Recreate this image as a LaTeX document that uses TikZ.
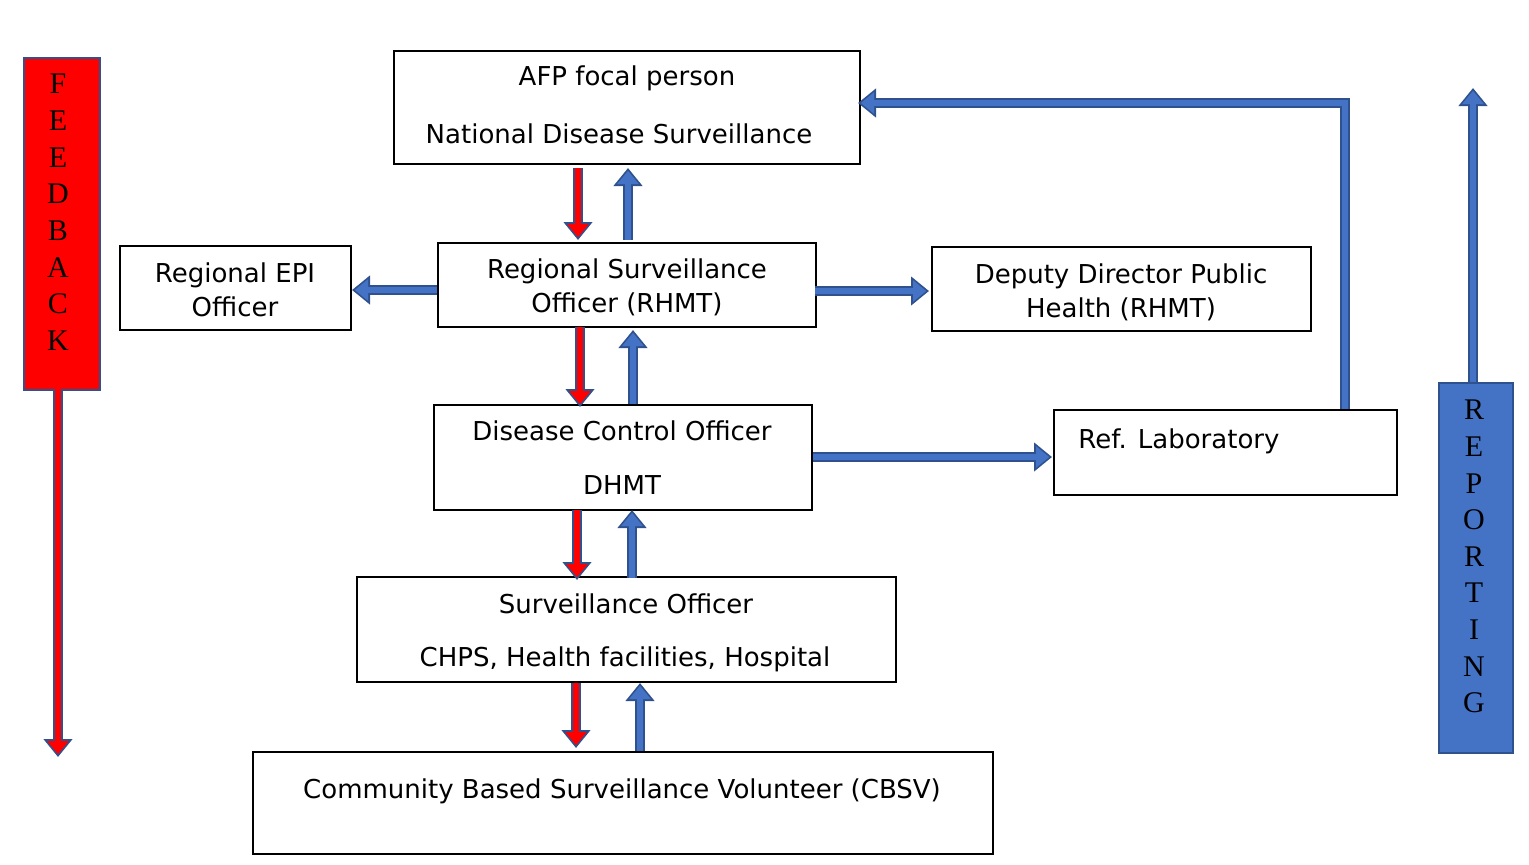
\documentclass[tikz,border=0pt]{standalone}
\usepackage{fontspec}
\setmainfont{DejaVu Sans}
\newfontfamily\serifl{Liberation Serif}
\usetikzlibrary{arrows.meta}
\definecolor{bl}{HTML}{4472C4}
\definecolor{dk}{HTML}{2F528F}
\definecolor{rd}{HTML}{FF0000}
\tikzset{
  box/.style={draw, line width=1pt, inner sep=0pt, anchor=north west},
  txt/.style={font=\fontsize{13}{15}\selectfont, align=center, inner sep=0pt},
  fo/.style={draw=dk, line width=5.2pt, -{Triangle[length=9pt,width=14pt]}},
  fi/.style={line width=3.4pt, shorten >=1.4pt, -{Triangle[length=6.6pt,width=10.4pt]}},
  lt/.style={font=\serifl\fontsize{15}{16}\selectfont, inner sep=0pt}
}
\newcommand\farrow[2]{\draw[fo] #2; \draw[fi,draw=#1] #2;}
\begin{document}
\begin{tikzpicture}[x=0.5pt,y=-0.5pt]
\useasboundingbox (0,0) rectangle (1529,864);
% boxes
\node[box, minimum width=233pt, minimum height=56.5pt] (afp) at (393,50) {};
\node[box, minimum width=115.5pt, minimum height=42pt] (epi) at (119,245) {};
\node[box, minimum width=189pt, minimum height=42pt] (rso) at (437,242) {};
\node[box, minimum width=189.5pt, minimum height=42pt] (ddp) at (931,246) {};
\node[box, minimum width=189pt, minimum height=52.5pt] (dco) at (433,404) {};
\node[box, minimum width=171.5pt, minimum height=42.5pt] (lab) at (1053,409) {};
\node[box, minimum width=269.5pt, minimum height=52.5pt] (so) at (356,576) {};
\node[box, minimum width=370pt, minimum height=51pt] (cb) at (252,751) {};
\node[draw=dk, fill=rd, line width=1pt, inner sep=0pt, anchor=north west, minimum width=38pt, minimum height=166pt] (fb) at (23,57) {};
\node[draw=dk, fill=bl, line width=1pt, inner sep=0pt, anchor=north west, minimum width=37pt, minimum height=185pt] (rp) at (1438,382) {};
% texts
\node[txt] (t1) at (627,78) {AFP focal person};
\node[txt] (t2) at (619,134) {National Disease Surveillance};
\node[txt] (t3) at (235,290) {Regional EPI\\[2pt]Officer};
\node[txt] (t4) at (627,287) {Regional Surveillance\\[2pt]Officer (RHMT)};
\node[txt] (t5) at (1121,292) {Deputy Director Public\\[2pt]Health (RHMT)};
\node[txt] (t6) at (622,431) {Disease Control Officer};
\node[txt] (t7) at (622,485) {DHMT};
\node[txt, anchor=west] (t8) at (1078,441) {Ref. Laboratory};
\node[txt] (t9) at (626,604) {Surveillance Officer};
\node[txt] (t10) at (625,659) {CHPS, Health facilities, Hospital};
\node[txt] (t11) at (622,791) {Community Based Surveillance Volunteer (CBSV)};
\foreach \l [count=\i] in {F,E,E,D,B,A,C,K}
  \node[lt] (f\i) at (58,{84+36.7*(\i-1)}) {\l};
\foreach \l [count=\i] in {R,E,P,O,R,T,I,N,G}
  \node[lt] (r\i) at (1474,{410+36.6*(\i-1)}) {\l};
% vertical arrows
\farrow{rd}{(578,168) -- (578,240)}
\farrow{bl}{(628,240) -- (628,168)}
\farrow{rd}{(580,327) -- (580,407)}
\farrow{bl}{(633,404) -- (633,330)}
\farrow{rd}{(577,510) -- (577,580)}
\farrow{bl}{(632,578) -- (632,510)}
\farrow{rd}{(576,683) -- (576,748)}
\farrow{bl}{(640,751) -- (640,683)}
% horizontal
\farrow{bl}{(437,290) -- (352,290)}
\farrow{bl}{(815,291) -- (929,291)}
\farrow{bl}{(813,457) -- (1052,457)}
\farrow{bl}{(1345,409) -- (1345,103) -- (858,103)}
\farrow{rd}{(58,389) -- (58,757)}
\farrow{bl}{(1473,382) -- (1473,88)}
\end{tikzpicture}
\end{document}
